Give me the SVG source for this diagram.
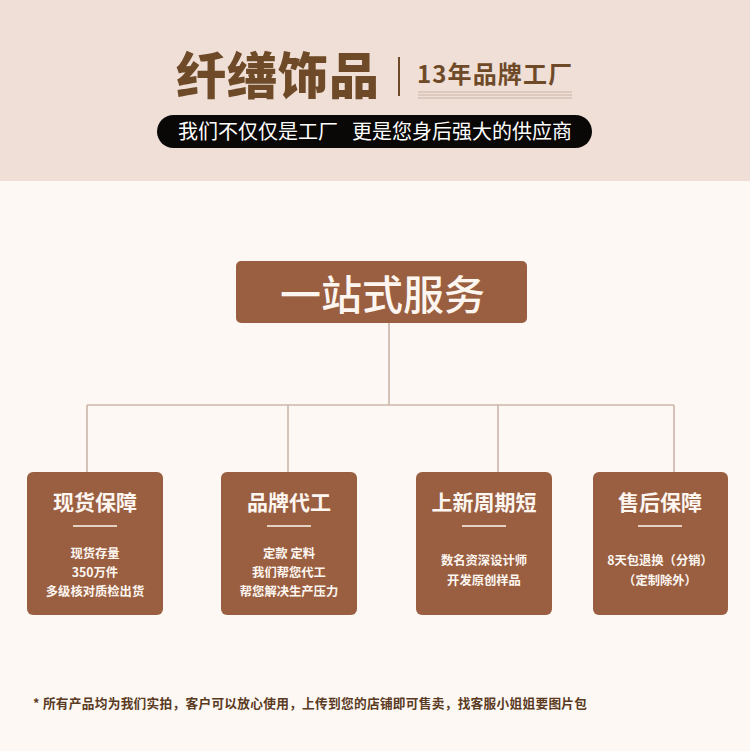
<svg xmlns="http://www.w3.org/2000/svg" width="750" height="751" viewBox="0 0 750 751">
<style>
.cn{font-family:"Noto Sans CJK SC","Noto Sans",sans-serif;}
.box{fill:#9a5f40;}
.ttl{font-size:21px;font-weight:700;fill:#fdf6f0;text-anchor:middle;}
.sub{font-size:12.3px;font-weight:700;fill:#fdf6f0;text-anchor:middle;}
.ul{stroke:#fdf6f0;stroke-width:1.3;}
.conn{stroke:#cbb6aa;stroke-width:1.6;fill:none;}
</style>
<rect x="0" y="0" width="750" height="751" fill="#fdf8f4"/>
<rect x="0" y="0" width="750" height="181" fill="#efdfd6"/>
<g id="header">
<text class="cn" x="176" y="94" font-size="50" font-weight="900" fill="#6e4a28" letter-spacing="1">纤缮饰品</text>
<line x1="399" y1="57" x2="399" y2="96" stroke="#6e4a28" stroke-width="2"/>
<text class="cn" x="417" y="83" font-size="24" font-weight="700" fill="#6e4a28" textLength="155" lengthAdjust="spacing">13年品牌工厂</text>
<line x1="418" y1="92" x2="572" y2="92" stroke="#c9b2a4" stroke-width="1"/>
<line x1="418" y1="95" x2="572" y2="95" stroke="#c9b2a4" stroke-width="1"/>
<line x1="418" y1="98" x2="572" y2="98" stroke="#c9b2a4" stroke-width="1"/>
<rect x="157" y="115" width="435" height="33" rx="16.5" fill="#0a0707"/>
<text class="cn" y="139" font-size="20" fill="#ffffff"><tspan x="178">我们不仅仅是工厂</tspan><tspan x="352">更是您身后强大的供应商</tspan></text>
</g>
<g id="connectors">
<path class="conn" d="M389 323 V405 M87 405 H674 M87 405 V472 M288 405 V472 M498 405 V472 M674 405 V472"/>
</g>
<g id="root">
<rect class="box" x="236" y="261" width="291" height="62" rx="5"/>
<text class="cn" x="382.5" y="310" font-size="41" font-weight="500" fill="#fdf6f0" text-anchor="middle">一站式服务</text>
</g>
<g id="node1">
<rect class="box" x="27" y="472" width="136" height="143" rx="6"/>
<text class="cn ttl" x="95" y="510">现货保障</text>
<line class="ul" x1="73" y1="526" x2="117" y2="526"/>
<text class="cn sub" x="95" y="558">现货存量</text>
<text class="cn sub" x="95" y="577">350万件</text>
<text class="cn sub" x="95" y="596">多级核对质检出货</text>
</g>
<g id="node2">
<rect class="box" x="221" y="472" width="136" height="143" rx="6"/>
<text class="cn ttl" x="289" y="510">品牌代工</text>
<line class="ul" x1="267" y1="526" x2="311" y2="526"/>
<text class="cn sub" x="289" y="558">定款 定料</text>
<text class="cn sub" x="289" y="577">我们帮您代工</text>
<text class="cn sub" x="289" y="596">帮您解决生产压力</text>
</g>
<g id="node3">
<rect class="box" x="416" y="472" width="136" height="143" rx="6"/>
<text class="cn ttl" x="484" y="510">上新周期短</text>
<line class="ul" x1="462" y1="526" x2="506" y2="526"/>
<text class="cn sub" x="484" y="565">数名资深设计师</text>
<text class="cn sub" x="484" y="585">开发原创样品</text>
</g>
<g id="node4">
<rect class="box" x="593" y="472" width="135" height="143" rx="6"/>
<text class="cn ttl" x="660" y="510">售后保障</text>
<line class="ul" x1="638" y1="526" x2="682" y2="526"/>
<text class="cn sub" x="660" y="565">8天包退换（分销）</text>
<text class="cn sub" x="660" y="585">（定制除外）</text>
</g>
<g id="footer">
<text class="cn" x="33" y="708" font-size="12.7" font-weight="700" fill="#5a3a22" textLength="554" lengthAdjust="spacing">* 所有产品均为我们实拍，客户可以放心使用，上传到您的店铺即可售卖，找客服小姐姐要图片包</text>
</g>
</svg>
